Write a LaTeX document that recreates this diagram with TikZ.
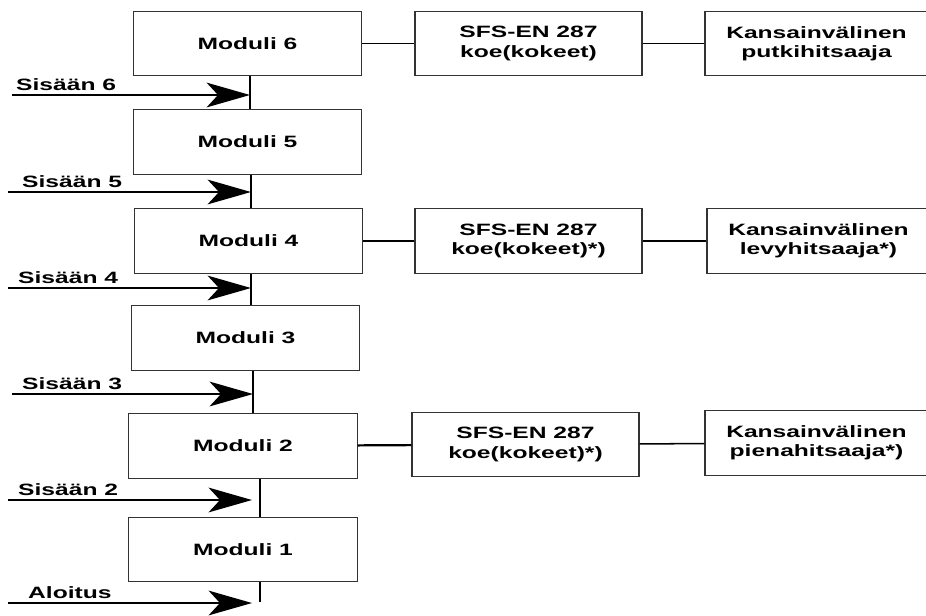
\documentclass[tikz,border=0pt]{standalone}
\usepackage{fontspec}
\usepackage{tikz}
\usetikzlibrary{arrows.meta}
\newfontfamily\diagfont[FakeStretch=1.5]{Liberation Sans}
\tikzset{box/.style={draw=black!80,line width=0.9pt,minimum width=6.85cm,minimum height=1.93cm,inner sep=0pt,align=center,font=\diagfont\bfseries\fontsize{14}{16.5}\selectfont}}
\tikzset{lbl/.style={anchor=base west,inner sep=0pt,font=\diagfont\bfseries\fontsize{14}{16.5}\selectfont}}

\begin{document}
\begin{tikzpicture}[x=0.03cm,y=-0.03cm,>={Stealth[length=13mm,width=7.4mm,inset=3.4mm]}]
    \useasboundingbox (0,0) rectangle (926,615);

    \node[box] (m6) at (247.5,43.5) {Moduli 6};
    \node[box] (m5) at (247.5,142) {Moduli 5};
    \node[box] (m4) at (248.5,241) {Moduli 4};
    \node[box] (m3) at (245.5,338) {Moduli 3};
    \node[box] (m2) at (243,446) {Moduli 2};
    \node[box] (m1) at (243,549.5) {Moduli 1};

    \node[box,minimum width=6.81cm] (s6) at (528.5,43.5) {SFS-EN 287\\koe(kokeet)};
    \node[box,minimum width=6.81cm] (s4) at (528.5,241) {SFS-EN 287\\koe(kokeet)*)};
    \node[box,minimum width=6.81cm] (s2) at (525.5,444.5) {SFS-EN 287\\koe(kokeet)*)};
    \node[box,minimum width=6.69cm] (k6) at (816.5,43.5) {Kansainvälinen\\putkihitsaaja};
    \node[box,minimum width=6.69cm] (k4) at (818.5,241) {Kansainvälinen\\levyhitsaaja*)};
    \node[box,minimum width=6.69cm] (k2) at (816.5,443) {Kansainvälinen\\pienahitsaaja*)};

    \node[lbl] (l6) at (16,90) {Sisään 6};
    \node[lbl] (l5) at (22,187) {Sisään 5};
    \node[lbl] (l4) at (18,283) {Sisään 4};
    \node[lbl] (l3) at (22,389) {Sisään 3};
    \node[lbl] (l2) at (18,495) {Sisään 2};
    \node[lbl] (l1) at (28,598) {Aloitus};

    \coordinate (a6) at (12,95);  \coordinate (b6) at (250,95);
    \coordinate (a5) at (8,192);  \coordinate (b5) at (251,192);
    \coordinate (a4) at (8,288);  \coordinate (b4) at (251,288);
    \coordinate (a3) at (12,394); \coordinate (b3) at (253,394);
    \coordinate (a2) at (8,500);  \coordinate (b2) at (252,500);
    \coordinate (a1) at (8,603);  \coordinate (b1) at (252,603);
    \coordinate (e) at (260,602);

    \draw [->,line width=2.3pt] (a6) to [] (b6);
    \draw [->,line width=2.3pt] (a5) to [] (b5);
    \draw [->,line width=2.3pt] (a4) to [] (b4);
    \draw [->,line width=2.3pt] (a3) to [] (b3);
    \draw [->,line width=2.3pt] (a2) to [] (b2);
    \draw [->,line width=2.3pt] (a1) to [] (b1);

    \draw [line width=2.5pt] (m6.south -| b6) to [] (m5.north -| b6);
    \draw [line width=2.5pt] (m5.south -| b5) to [] (m4.north -| b5);
    \draw [line width=2.5pt] (m4.south -| b4) to [] (m3.north -| b4);
    \draw [line width=2.5pt] (m3.south -| b3) to [] (m2.north -| b3);
    \draw [line width=1.1pt] (m2.south -| e) to [] (m1.north -| e);
    \draw [line width=1.8pt] (m1.south -| e) to [] (e);

    \draw [line width=0.9pt] (m6) to [] (s6);
    \draw [line width=0.9pt] (s6) to [] (k6);
    \draw [line width=2.5pt] (m4) to [] (s4);
    \draw [line width=1.3pt] (s4) to [] (k4);
    \draw [line width=1.9pt] (m2) to [] (s2);
    \draw [line width=1.3pt] (s2) to [] (k2);
\end{tikzpicture}
\end{document}
